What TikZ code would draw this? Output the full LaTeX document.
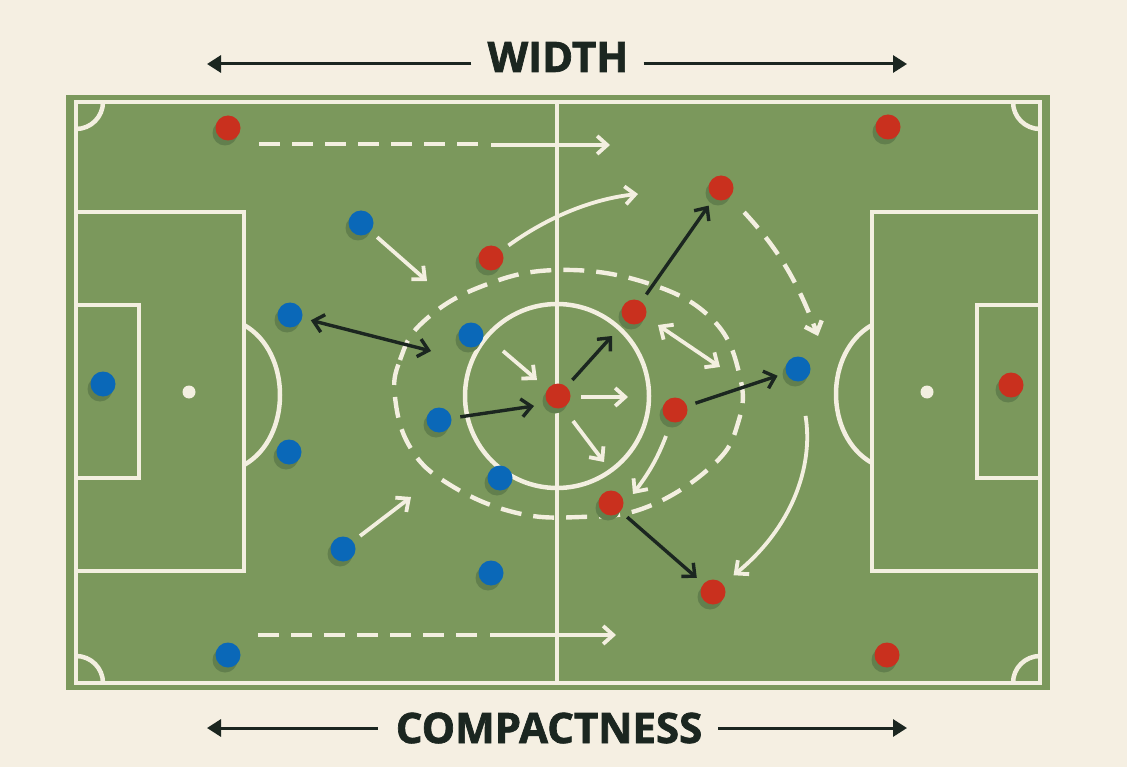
\documentclass[tikz,border=0pt]{standalone}
\usepackage{fontspec}
\setsansfont[BoldFeatures={FakeBold=1.6}]{Open Sans}
\usetikzlibrary{arrows.meta,shadows}
\definecolor{paper}{HTML}{F5EFE2}
\definecolor{turf}{HTML}{7B985C}
\definecolor{chalk}{HTML}{F3EFE0}
\definecolor{redteam}{HTML}{C9301E}
\definecolor{blueteam}{HTML}{0A68B8}
\definecolor{ink}{HTML}{1B2620}
\definecolor{turfshade}{HTML}{627F4D}
\tikzset{
  pitchline/.style={draw=chalk,line width=4.5pt},
  player/.style={circle,minimum size=25pt,inner sep=0pt,outer sep=9pt,
    general shadow={fill=turfshade,shadow xshift=-3pt,shadow yshift=-5pt}},
  redplayer/.style={player,fill=redteam},
  blueplayer/.style={player,fill=blueteam},
  whitearrow/.style={draw=chalk,line width=3.8pt,-{Straight Barb[length=10pt,width=18pt]}},
  whitedash/.style={draw=chalk,line width=4.4pt,dash pattern=on 21pt off 12pt},
  blackarrow/.style={draw=ink,line width=3.4pt,-{Straight Barb[length=10pt,width=18pt]}},
  bothways/.style={{Straight Barb[length=10pt,width=18pt]}-{Straight Barb[length=10pt,width=18pt]}},
  titlearrow/.style={draw=ink,line width=3pt,-{Triangle[length=14pt,width=17pt]}},
  title/.style={font=\sffamily\bfseries\fontsize{42}{42}\selectfont,text=ink,inner sep=0pt}
}
\begin{document}
\begin{tikzpicture}[x=1pt,y=-1pt]
\useasboundingbox (0,0) rectangle (1127,767);
\fill[paper] (0,0) rectangle (1127,767);
\fill[turf] (66,95) rectangle (1050,690);
% markings
\draw[pitchline] (76,102) rectangle (1040,683);
\draw[pitchline] (557,102)--(557,683);
\draw[pitchline] (557,396) circle (92);
\draw[pitchline] (76,212) rectangle (244,571);
\draw[pitchline] (76,305) rectangle (139,478);
\draw[pitchline] (872,212) rectangle (1040,571);
\draw[pitchline] (977,305) rectangle (1040,478);
\draw[pitchline] (244,325) .. controls (292,352) and (292,438) .. (244,465);
\draw[pitchline] (872,325) .. controls (824,352) and (824,436) .. (872,463);
\fill[chalk] (189,392) circle (6.5);
\fill[chalk] (927,392) circle (6.5);
\draw[pitchline] (76,129) arc (90:0:27);
\draw[pitchline] (1013,102) arc (180:90:27);
\draw[pitchline] (76,656) arc (-90:0:27);
\draw[pitchline] (1013,683) arc (180:270:27);
% pressing zone
\draw[whitedash] plot[smooth cycle,tension=0.7] coordinates {
  (395,397) (400,360) (423,322) (480,287) (557,270) (647,283) (713,320) (740,377)
  (738,423) (713,465) (647,507) (580,517) (513,512) (447,483) (410,447)};
% players
\node[redplayer] (redwingtop) at (228,128) {};
\node[redplayer] (redfartop) at (888,127) {};
\node[redplayer] (redrunner) at (721,188) {};
\node[redplayer] (redinside) at (491,258) {};
\node[redplayer] (redmidtop) at (634,312) {};
\node[redplayer] (redball) at (558,396) {};
\node[redplayer] (redmid) at (675,410) {};
\node[redplayer] (redmidlow) at (611,503) {};
\node[redplayer] (redlow) at (713,592) {};
\node[redplayer] (redfarlow) at (887,655) {};
\node[redplayer] (redkeeper) at (1011,385) {};
\node[blueplayer] (bluehightop) at (361,223) {};
\node[blueplayer] (blueback) at (290,315) {};
\node[blueplayer] (bluenear) at (471,335) {};
\node[blueplayer] (bluemid) at (439,420) {};
\node[blueplayer] (bluebacklow) at (289,452) {};
\node[blueplayer] (bluecircle) at (500,478) {};
\node[blueplayer] (bluehighlow) at (343,549) {};
\node[blueplayer] (bluelow) at (491,573) {};
\node[blueplayer] (bluewing) at (228,655) {};
\node[blueplayer] (bluekeeper) at (103,384) {};
\node[blueplayer] (bluefar) at (798,369) {};
% free ends
\coordinate (dashtopa) at (259,144);
\coordinate (dashtopb) at (478,144);
\coordinate (runtopa) at (491,145);
\coordinate (runtopb) at (610,145);
\coordinate (dashlowa) at (258,635);
\coordinate (dashlowb) at (478,635);
\coordinate (runlowa) at (490,635);
\coordinate (runlowb) at (616,635);
\coordinate (curveend) at (638,194);
\coordinate (closetop) at (427,281);
\coordinate (closelow) at (411,497);
\coordinate (zoneleft) at (431,351);
\coordinate (passa) at (503,351);
\coordinate (passb) at (537,380);
\coordinate (passc) at (581,397);
\coordinate (passd) at (628,397);
\coordinate (passe) at (573,421);
\coordinate (passf) at (604,462);
\coordinate (swapa) at (658,325);
\coordinate (swapb) at (720,367);
\coordinate (balltip) at (534,406);
\coordinate (midtoptip) at (612,336);
\coordinate (dashtip) at (818,336);
\coordinate (slidetip) at (633,494);
\coordinate (widthleft) at (207,64);
\coordinate (widthright) at (907,64);
\coordinate (compactleft) at (207,728);
\coordinate (compactright) at (907,728);
% white arrows
\draw[whitedash] (dashtopa) -- (dashtopb);
\draw[whitearrow] (runtopa) -- (runtopb);
\draw[whitedash] (dashlowa) -- (dashlowb);
\draw[whitearrow] (runlowa) -- (runlowb);
\draw[whitearrow] (redinside) .. controls (555,212) and (600,198) .. (curveend);
\draw[whitearrow] (bluehightop) -- (closetop);
\draw[whitearrow] (bluehighlow) -- (closelow);
\draw[whitearrow] (passa) -- (passb);
\draw[whitearrow] (passc) -- (passd);
\draw[whitearrow] (passe) -- (passf);
\draw[whitearrow,bothways] (swapa) -- (swapb);
\draw[whitearrow,shorten <=6pt] (redmid) to[bend left=8] (slidetip);
\draw[whitedash,-{Straight Barb[length=10pt,width=18pt]},shorten <=12pt] (redrunner) to[bend left=11] (dashtip);
\draw[whitearrow,shorten <=26pt,shorten >=5pt] (bluefar) to[bend left=30] (redlow);
% black arrows
\draw[blackarrow,bothways] (blueback) -- (zoneleft);
\draw[blackarrow] (bluemid) -- (balltip);
\draw[blackarrow] (redball) -- (midtoptip);
\draw[blackarrow] (redmidtop) -- (redrunner);
\draw[blackarrow] (redmid) -- (bluefar);
\draw[blackarrow] (redmidlow) -- (redlow);
% titles
\node[title] (widthlabel) at (558,57) {WIDTH};
\node[title] (compactlabel) at (549,728) {COMPACTNESS};
\draw[titlearrow] ([xshift=-16pt]widthlabel.west |- widthleft) -- (widthleft);
\draw[titlearrow] ([xshift=15pt]widthlabel.east |- widthright) -- (widthright);
\draw[titlearrow] ([xshift=-18pt]compactlabel.west |- compactleft) -- (compactleft);
\draw[titlearrow] ([xshift=16pt]compactlabel.east |- compactright) -- (compactright);
\end{tikzpicture}
\end{document}
